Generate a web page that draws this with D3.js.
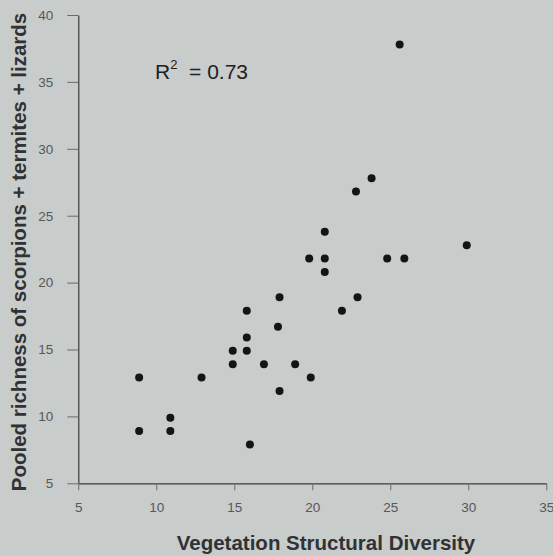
<!DOCTYPE html>
<html><head><meta charset="utf-8">
<script src="https://cdn.jsdelivr.net/npm/d3@7"></script>
<style>body{margin:0;background:#c8cccb;}svg{display:block;}</style>
</head><body>
<script>
const xValues = [8.9, 8.9, 10.9, 10.9, 12.9, 14.9, 14.9, 15.8, 15.8, 15.8, 16.0, 16.9, 17.9, 17.8, 17.9, 18.9, 19.8, 19.9, 20.8, 20.8, 20.8, 21.9, 22.8, 22.9, 23.8, 24.8, 25.6, 25.9, 29.9];
const yValues = [12.9, 8.9, 9.9, 8.9, 12.9, 14.9, 13.9, 17.9, 15.9, 14.9, 7.9, 13.9, 18.9, 16.7, 11.9, 13.9, 21.8, 12.9, 23.8, 21.8, 20.8, 17.9, 26.8, 18.9, 27.8, 21.8, 37.8, 21.8, 22.8];
const xTicks = [5, 10, 15, 20, 25, 30, 35];
const yTicks = [5, 10, 15, 20, 25, 30, 35, 40];
const xTitle = "Vegetation Structural Diversity";
const yTitle = "Pooled richness of scorpions + termites + lizards";

const W = 553, H = 556;
const svg = d3.select("body").append("svg").attr("width", W).attr("height", H);
svg.append("rect").attr("width", W).attr("height", H).attr("fill", "#c8cccb");

const x = d3.scaleLinear().domain([5, 35]).range([78.3, 546.3]);
const y = d3.scaleLinear().domain([5, 40]).range([483.3, 15]);

const font = "'Liberation Sans', Arial, sans-serif";

// y axis
const yAxis = svg.append("g").attr("transform", `translate(${x(5)},0)`)
  .call(d3.axisLeft(y).tickValues(yTicks).tickSize(11).tickPadding(14).tickSizeOuter(0));
yAxis.select(".domain").attr("stroke", "#3a3c3c").attr("stroke-width", 1.2);
yAxis.selectAll(".tick line").attr("stroke", "#6a6c6c");
yAxis.selectAll(".tick text").attr("fill", "#55585a").style("font-family", font).style("font-size", "13.5px");

// x axis
const xAxis = svg.append("g").attr("transform", `translate(0,${y(5)})`)
  .call(d3.axisBottom(x).tickValues(xTicks).tickSize(7).tickPadding(12).tickSizeOuter(0));
xAxis.select(".domain").attr("stroke", "#3a3c3c").attr("stroke-width", 1.2);
xAxis.selectAll(".tick line").attr("stroke", "#6a6c6c");
xAxis.selectAll(".tick text").attr("fill", "#55585a").style("font-family", font).style("font-size", "13.5px");

// points
svg.append("g").selectAll("circle").data(xValues.map((v, i) => [v, yValues[i]]))
  .join("circle")
  .attr("cx", d => x(d[0])).attr("cy", d => y(d[1])).attr("r", 4)
  .attr("fill", "#141416");

// titles
svg.append("text").attr("x", 326).attr("y", 550).attr("text-anchor", "middle")
  .style("font-family", font).style("font-size", "20.5px").style("font-weight", "bold")
  .attr("fill", "#303234").text(xTitle);

svg.append("text").attr("transform", "translate(26,252) rotate(-90)").attr("text-anchor", "middle")
  .style("font-family", font).style("font-size", "20.5px").style("font-weight", "bold")
  .attr("fill", "#303234").text(yTitle);

// R^2 annotation
const r = svg.append("text").attr("x", 155).attr("y", 79)
  .style("font-family", font).style("font-size", "21px").attr("fill", "#1e2022");
r.append("tspan").text("R");
r.append("tspan").attr("dy", -10).style("font-size", "13px").text("2");
r.append("tspan").attr("dy", 10).attr("xml:space", "preserve").text("  = 0.73");
</script>
</body></html>
